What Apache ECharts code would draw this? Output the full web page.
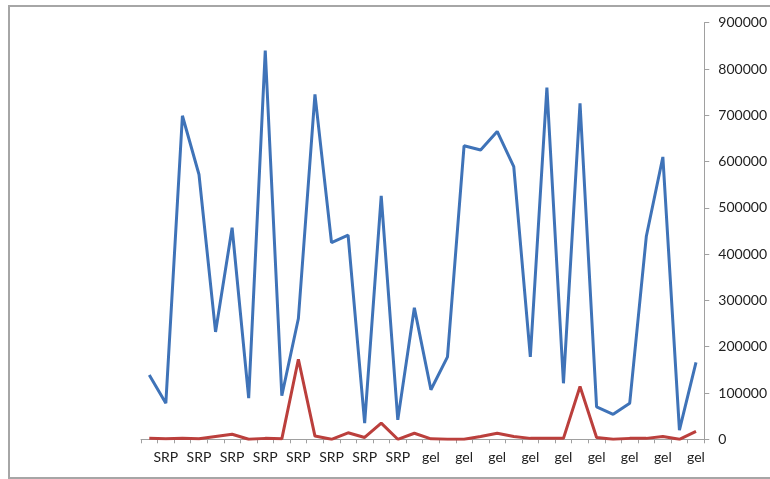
<!DOCTYPE html>
<html><head><meta charset="utf-8">
<script src="https://cdn.jsdelivr.net/npm/echarts@6/dist/echarts.min.js"></script>
<style>html,body{margin:0;padding:0;background:#fff}#c{width:770px;height:479px}</style>
</head><body><div id="c"></div>
<script>
const categories = [
 "SRP","SRP","SRP","SRP","SRP","SRP","SRP","SRP","SRP","SRP","SRP","SRP","SRP","SRP","SRP","SRP","SRP",
 "gel","gel","gel","gel","gel","gel","gel","gel","gel","gel","gel","gel","gel","gel","gel","gel","gel"
];
const blueValues = [139000,78000,699000,572000,232000,457000,89000,840000,94000,261000,745000,425000,441000,35000,526000,42000,284000,
 107000,178000,634000,625000,665000,589000,178000,760000,121000,726000,70000,54000,78000,438000,610000,20000,166000];
const redValues = [2000,1000,2000,1000,6000,11000,0,2000,1000,173000,7000,0,14000,4000,35000,0,13000,
 1000,0,0,6000,13000,6000,2000,2000,2000,114000,4000,0,2000,2000,6000,0,17000];
const yTicks = {min:0, max:900000, interval:100000};

const chart = echarts.init(document.getElementById('c'), null, {renderer:'canvas'});
const font = 'Lato, "Open Sans", sans-serif';
chart.setOption({
  animation:false,
  backgroundColor:'#fff',
  graphic:[{type:'rect', shape:{x:9,y:6,width:800,height:472}, style:{fill:'none', stroke:'#a6a6a6', lineWidth:2}, z:-1}],
  grid:{left:141, right:63.3, top:22.7, bottom:39.7},
  xAxis:{type:'category', data:categories, boundaryGap:true,
    axisLine:{lineStyle:{color:'#a0a0a0', width:1}},
    axisTick:{show:true, interval:0, length:4, lineStyle:{color:'#a0a0a0'}},
    axisLabel:{interval:(i)=>i%2===1, color:'#222', fontFamily:font, fontSize:14, margin:11}},
  yAxis:{type:'value', position:'right', min:yTicks.min, max:yTicks.max, interval:yTicks.interval,
    splitLine:{show:false},
    axisLine:{show:true, lineStyle:{color:'#a0a0a0'}},
    axisTick:{show:true, length:5, lineStyle:{color:'#a0a0a0'}},
    axisLabel:{color:'#222', fontFamily:font, fontSize:14, margin:14, formatter:(v)=>String(v)}},
  series:[
    {type:'line', data:blueValues, showSymbol:false, symbol:'none', lineStyle:{color:'#3f73b8', width:3}},
    {type:'line', data:redValues, showSymbol:false, symbol:'none', lineStyle:{color:'#bb3f3c', width:3}}
  ]
});
</script></body></html>
